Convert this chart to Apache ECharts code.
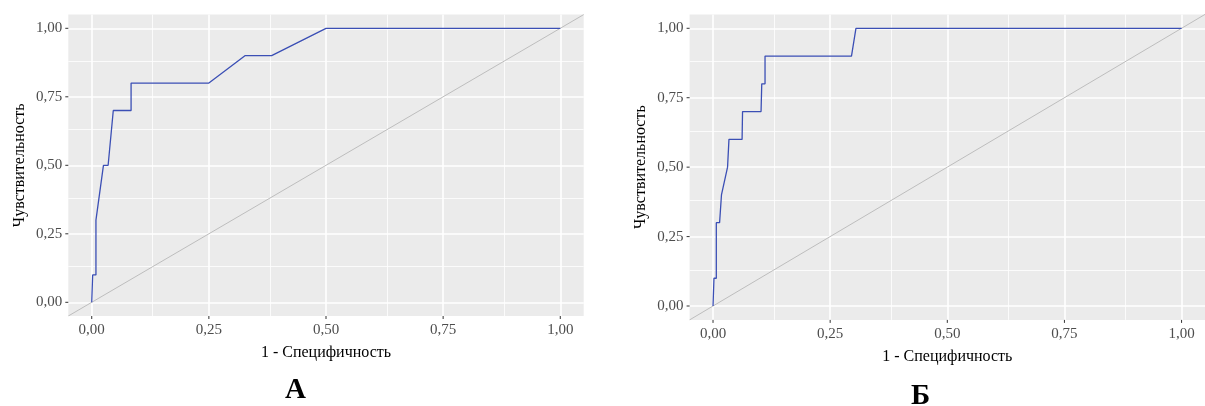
<!DOCTYPE html>
<html>
<head>
	<meta charset="UTF-8">
	<title>ROC</title>
	<script src="https://cdn.jsdelivr.net/npm/echarts@6/dist/echarts.min.js"></script>
	<style>
		body { margin: 0; background: #fff; }
	</style>
</head>
<body>
	<div id="main" style="width: 1205px; height: 406px;"></div>
	<script>
		// панель А
		var fprA = [0, 0.002, 0.009, 0.009, 0.025, 0.035, 0.046, 0.084, 0.084, 0.25, 0.327, 0.384, 0.5, 1];
		var tprA = [0, 0.1, 0.1, 0.3, 0.5, 0.5, 0.7, 0.7, 0.8, 0.8, 0.9, 0.9, 1, 1];
		// панель Б
		var fprB = [0, 0.002, 0.007, 0.007, 0.014, 0.018, 0.021, 0.031, 0.034, 0.034, 0.062, 0.063, 0.1025, 0.104, 0.111, 0.111, 0.2955, 0.305, 1];
		var tprB = [0, 0.1, 0.1, 0.3, 0.3, 0.4, 0.4, 0.5, 0.5, 0.6, 0.6, 0.7, 0.7, 0.8, 0.8, 0.9, 0.9, 1, 1];

		var majorTicks = [0, 0.25, 0.5, 0.75, 1];
		var minorTicks = [0.125, 0.375, 0.625, 0.875];
		var diag = [-0.05, 1.05];

		var xTitle = '1 - Специфичность';
		var yTitle = 'Чувствительность';
		var panelLetters = ['А', 'Б'];

		var font = 'Liberation Serif';
		var myChart = echarts.init(document.getElementById('main'));

		function zip(a, b) {
			var res = [];
			for (var i = 0; i < a.length; i++) res.push([a[i], b[i]]);
			return res;
		}
		function fmt(v) {
			return v.toFixed(2).replace('.', ',');
		}

		// линии сетки как в ggplot
		var gridLines = [];
		majorTicks.forEach(function (v) {
			gridLines.push({ xAxis: v, lineStyle: { width: 1.6 } });
			gridLines.push({ yAxis: v, lineStyle: { width: 1.6 } });
		});
		minorTicks.forEach(function (v) {
			gridLines.push({ xAxis: v, lineStyle: { width: 0.8 } });
			gridLines.push({ yAxis: v, lineStyle: { width: 0.8 } });
		});

		function axisCommon(i) {
			return {
				type: 'value', gridIndex: i, min: diag[0], max: diag[1],
				axisLine: { show: false },
				splitLine: { show: false },
				axisTick: { show: false },
				nameLocation: 'middle',
				nameTextStyle: { color: '#000', fontFamily: font, fontSize: 16 }
			};
		}
		function xAx(i) {
			var a = axisCommon(i);
			a.axisLabel = { customValues: majorTicks, formatter: fmt, margin: 7, color: '#4D4D4D', fontFamily: font, fontSize: 15 };
			a.name = xTitle;
			a.nameGap = 29;
			return a;
		}
		function yAx(i) {
			var a = axisCommon(i);
			a.axisLabel = { customValues: majorTicks, formatter: fmt, margin: 6, color: '#4D4D4D', fontFamily: font, fontSize: 15 };
			a.name = yTitle;
			a.nameGap = 41;
			return a;
		}
		// короткие засечки снаружи панели
		function tickRender(params, api) {
			var v = api.value(0);
			var px = api.coord([v, diag[0]]);
			var py = api.coord([diag[0], v]);
			var st = { stroke: '#333', lineWidth: 1 };
			return {
				type: 'group',
				children: [
					{ type: 'line', shape: { x1: px[0], y1: px[1], x2: px[0], y2: px[1] + 3 }, style: st },
					{ type: 'line', shape: { x1: py[0], y1: py[1], x2: py[0] - 3, y2: py[1] }, style: st }
				]
			};
		}
		function seriesFor(i, fpr, tpr) {
			return [{
				type: 'line', xAxisIndex: i, yAxisIndex: i, z: 2,
				data: [[diag[0], diag[0]], [diag[1], diag[1]]],
				symbol: 'none', silent: true,
				lineStyle: { color: '#BDBDBD', width: 1 },
				markLine: {
					z: 1, silent: true, symbol: 'none', label: { show: false },
					lineStyle: { color: '#FFFFFF', type: 'solid' },
					emphasis: { disabled: true },
					data: gridLines
				}
			}, {
				type: 'line', xAxisIndex: i, yAxisIndex: i, z: 3,
				data: zip(fpr, tpr),
				symbol: 'none',
				lineStyle: { color: '#3B4FB5', width: 1.3 }
			}, {
				type: 'custom', xAxisIndex: i, yAxisIndex: i, z: 3,
				clip: false, silent: true,
				data: majorTicks.map(function (v) { return [v]; }),
				renderItem: tickRender
			}];
		}

		var option = {
			animation: false,
			grid: [
				{ left: 68.3, top: 14.6, width: 515.4, height: 301.4, show: true, backgroundColor: '#EBEBEB', borderWidth: 0 },
				{ left: 689.6, top: 14.4, width: 521.4, height: 305.5, show: true, backgroundColor: '#EBEBEB', borderWidth: 0 }
			],
			xAxis: [xAx(0), xAx(1)],
			yAxis: [yAx(0), yAx(1)],
			series: seriesFor(0, fprA, tprA).concat(seriesFor(1, fprB, tprB)),
			graphic: [
				{ type: 'text', left: 285, top: 376, style: { text: panelLetters[0], font: 'bold 29px "Liberation Serif"', fill: '#000' } },
				{ type: 'text', left: 911, top: 382, style: { text: panelLetters[1], font: 'bold 29px "Liberation Serif"', fill: '#000' } }
			]
		};
		myChart.setOption(option);
	</script>
</body>
</html>
